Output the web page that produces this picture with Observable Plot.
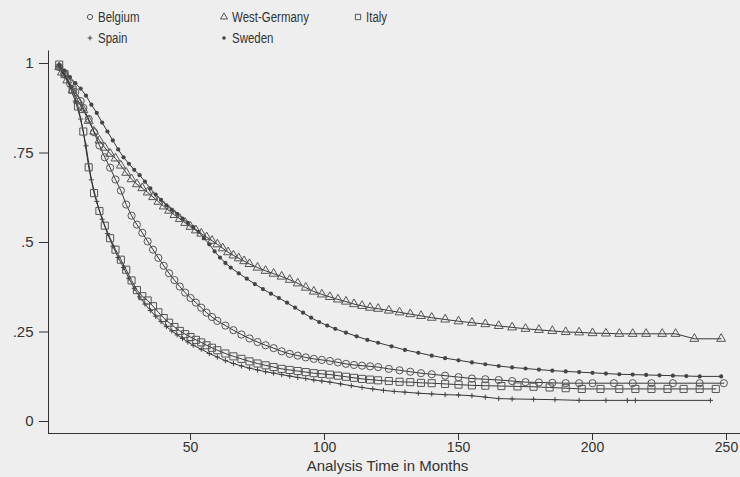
<!DOCTYPE html>
<html>
<head>
<meta charset="utf-8">
<script src="https://cdn.jsdelivr.net/npm/d3@7"></script>
<script src="https://cdn.jsdelivr.net/npm/@observablehq/plot@0.6"></script>
<style>
  html, body { margin: 0; padding: 0; background: #eeeeee; }
  #wrap { position: relative; width: 740px; height: 477px; background: #eeeeee; font-family: "Liberation Sans", Arial, sans-serif; color: #333; }
  #legend { position: absolute; left: 0; top: 0; width: 740px; height: 50px; }
  .item { position: absolute; display: flex; align-items: center; font-family: "Liberation Sans", Arial, sans-serif; font-size: 14px; color: #333; white-space: nowrap; }
  .item svg { margin-right: 3px; overflow: visible; }
  .item span { display: inline-block; transform: scaleX(0.82); transform-origin: left center; }
  #chart { position: absolute; left: 0; top: 50px; }
</style>
</head>
<body>
<div id="wrap">
  <div id="legend"></div>
  <div id="chart"></div>
</div>
<script>
// ---- Data (month, survival proportion) ----
const countries = ["Belgium", "West-Germany", "Italy", "Spain", "Sweden"];

const belgium = [[1,0.99],[3,0.97],[5,0.945],[7,0.92],[9,0.895],[10,0.876],[12,0.845],[14,0.808],[16,0.771],[18,0.738],[20,0.709],[22,0.676],[24,0.645],[26,0.606],[28,0.575],[30,0.55],[32,0.527],[34,0.503],[36,0.48],[38,0.457],[40,0.435],[42,0.414],[44,0.395],[46,0.377],[48,0.36],[50,0.345],[52,0.332],[54,0.318],[56,0.304],[58,0.292],[60,0.281],[63,0.268],[66,0.255],[69,0.243],[72,0.232],[75,0.222],[78,0.213],[81,0.205],[84,0.196],[87,0.189],[90,0.184],[93,0.179],[96,0.175],[99,0.172],[102,0.169],[105,0.165],[108,0.161],[111,0.158],[114,0.156],[117,0.154],[120,0.152],[124,0.147],[128,0.143],[132,0.139],[136,0.135],[140,0.132],[145,0.128],[150,0.124],[155,0.12],[160,0.118],[165,0.116],[170,0.113],[175,0.11],[180,0.109],[185,0.108],[190,0.107],[195,0.107],[200,0.107],[208,0.107],[215,0.107],[222,0.107],[230,0.107],[240,0.107],[249,0.107]];

const westGermany = [[1,0.99],[2,0.975],[4,0.953],[6,0.925],[8,0.897],[10,0.87],[12,0.84],[14,0.81],[16,0.785],[18,0.765],[20,0.748],[22,0.735],[24,0.715],[26,0.695],[28,0.677],[30,0.663],[32,0.652],[34,0.64],[36,0.627],[38,0.614],[40,0.601],[42,0.589],[44,0.577],[46,0.566],[48,0.555],[50,0.544],[52,0.534],[54,0.525],[56,0.515],[58,0.505],[60,0.495],[62,0.484],[64,0.473],[66,0.464],[68,0.456],[70,0.448],[72,0.44],[75,0.43],[78,0.421],[81,0.413],[84,0.405],[87,0.396],[90,0.386],[93,0.374],[96,0.363],[99,0.355],[102,0.348],[105,0.341],[108,0.335],[111,0.328],[114,0.323],[117,0.318],[120,0.315],[124,0.31],[128,0.305],[132,0.3],[136,0.295],[140,0.29],[145,0.285],[150,0.28],[155,0.276],[160,0.272],[165,0.267],[170,0.263],[175,0.259],[180,0.256],[185,0.253],[190,0.25],[195,0.249],[200,0.247],[205,0.246],[210,0.245],[215,0.245],[220,0.245],[226,0.245],[231,0.245],[238,0.231],[248,0.231]];

const italy = [[1,0.997],[3,0.97],[6,0.927],[8,0.88],[10,0.81],[12,0.71],[14,0.638],[16,0.588],[18,0.547],[20,0.512],[22,0.48],[24,0.452],[26,0.424],[28,0.394],[30,0.367],[32,0.35],[34,0.338],[36,0.322],[38,0.305],[40,0.289],[42,0.276],[44,0.264],[46,0.253],[48,0.244],[50,0.236],[52,0.228],[54,0.221],[56,0.213],[58,0.206],[60,0.199],[63,0.19],[66,0.182],[69,0.175],[72,0.168],[75,0.162],[78,0.157],[81,0.152],[84,0.147],[87,0.144],[90,0.141],[93,0.138],[96,0.135],[99,0.133],[102,0.131],[105,0.128],[108,0.125],[111,0.122],[114,0.119],[117,0.117],[120,0.115],[124,0.113],[128,0.111],[132,0.11],[136,0.108],[140,0.107],[145,0.105],[150,0.103],[155,0.101],[160,0.1],[166,0.099],[172,0.098],[178,0.097],[184,0.095],[190,0.093],[196,0.091],[203,0.091],[210,0.091],[216,0.091],[222,0.091],[228,0.091],[234,0.091],[240,0.091],[246,0.091]];

const spain = [[1,0.99],[3,0.965],[5,0.935],[7,0.895],[9,0.845],[11,0.77],[13,0.675],[15,0.615],[17,0.565],[19,0.525],[21,0.49],[23,0.458],[25,0.43],[27,0.4],[29,0.372],[31,0.348],[33,0.328],[35,0.31],[37,0.294],[39,0.279],[41,0.265],[43,0.253],[45,0.242],[47,0.232],[49,0.222],[51,0.213],[54,0.202],[57,0.19],[60,0.18],[63,0.17],[66,0.162],[69,0.155],[72,0.149],[75,0.144],[78,0.139],[81,0.135],[84,0.131],[87,0.127],[90,0.123],[93,0.12],[96,0.116],[99,0.113],[102,0.11],[106,0.105],[110,0.1],[114,0.095],[118,0.091],[122,0.087],[126,0.084],[130,0.082],[135,0.079],[140,0.077],[145,0.075],[150,0.074],[155,0.072],[160,0.068],[165,0.064],[170,0.063],[178,0.062],[186,0.061],[195,0.059],[205,0.059],[213,0.059],[216,0.059],[244,0.059]];

const sweden = [[1,0.995],[3,0.98],[5,0.962],[7,0.945],[9,0.93],[11,0.91],[13,0.885],[15,0.862],[17,0.835],[19,0.81],[21,0.785],[23,0.76],[25,0.738],[27,0.72],[29,0.703],[31,0.688],[33,0.67],[35,0.651],[37,0.634],[39,0.619],[41,0.604],[43,0.592],[45,0.58],[47,0.567],[49,0.555],[51,0.543],[53,0.53],[55,0.512],[57,0.495],[59,0.475],[61,0.458],[63,0.443],[65,0.43],[68,0.414],[71,0.399],[74,0.384],[77,0.37],[80,0.357],[83,0.345],[86,0.332],[89,0.318],[92,0.304],[95,0.29],[98,0.278],[101,0.268],[104,0.259],[108,0.248],[112,0.238],[116,0.228],[120,0.22],[125,0.21],[130,0.2],[135,0.192],[140,0.184],[145,0.177],[150,0.171],[155,0.165],[160,0.16],[165,0.155],[170,0.151],[175,0.148],[180,0.145],[185,0.142],[190,0.14],[195,0.138],[200,0.136],[205,0.134],[210,0.132],[215,0.131],[220,0.13],[225,0.129],[230,0.128],[235,0.127],[240,0.126],[248,0.126]];

const xTicks = [50, 100, 150, 200, 250];
const yTicks = [0, 0.25, 0.5, 0.75, 1];
const yTickLabels = ["0", ".25", ".5", ".75", "1"];
const xTitle = "Analysis Time in Months";

// ---- Styles ----
const seriesStyle = {
  "Belgium":      {data: belgium,     symbol: "circle",   r: 3.6, lr: 2.6, fill: "none",  stroke: "#555"},
  "West-Germany": {data: westGermany, symbol: "triangle", r: 3.3, lr: 2.6, fill: "none",  stroke: "#555"},
  "Italy":        {data: italy,       symbol: "square",   r: 4.0, lr: 3.0, fill: "none",  stroke: "#555"},
  "Spain":        {data: spain,       symbol: "plus",     r: 1.8, lr: 1.6, fill: "none",  stroke: "#444"},
  "Sweden":       {data: sweden,      symbol: "circle",   r: 2.1, lr: 1.8, fill: "#444",  stroke: "none"}
};

const toRows = (arr, name) => arr.map(([m, s]) => ({country: name, month: m, surv: s}));

const marks = [];
for (const c of countries) {
  const st = seriesStyle[c];
  marks.push(Plot.line(toRows(st.data, c), {x: "month", y: "surv", stroke: "#222", strokeWidth: 0.9}));
}
for (const c of countries) {
  const st = seriesStyle[c];
  marks.push(Plot.dot(toRows(st.data, c), {x: "month", y: "surv", symbol: () => st.symbol, r: st.r, fill: st.fill, stroke: st.stroke, strokeWidth: 1}));
}

const yLabelMap = new Map(yTicks.map((t, i) => [t, yTickLabels[i]]));
const yMin = -0.0335;

const chart = Plot.plot({
  width: 740,
  height: 427,
  marginLeft: 48,
  marginRight: 14,
  marginTop: 13,
  marginBottom: 44,
  style: {background: "transparent", color: "#333", fontFamily: "'Liberation Sans', Arial, sans-serif", fontSize: "15px", overflow: "visible"},
  x: {domain: [-3, 250]},
  y: {domain: [yMin, 1]},
  symbol: {type: "identity"},
  marks: [
    Plot.ruleX([-3], {y1: yMin, y2: 1.035, stroke: "#333", strokeWidth: 1}),
    Plot.ruleY([yMin], {x1: -3, x2: 255.3, stroke: "#333", strokeWidth: 1}),
    Plot.axisY({ticks: yTicks, tickFormat: d => yLabelMap.get(d), tickSize: 9, tickPadding: 6, fontSize: 15, label: null, strokeOpacity: 1}),
    Plot.axisX({ticks: xTicks, tickFormat: d => String(d), tickSize: 7, tickPadding: 2, fontSize: 14, label: null, strokeOpacity: 1}),
    Plot.text([xTitle], {frameAnchor: "bottom", dy: 37, fontSize: 15, fill: "#333"}),
    ...marks
  ]
});
document.getElementById("chart").appendChild(chart);

// ---- Legend (HTML, above the SVG) ----
const legendPos = {
  "Belgium": [90, 17], "West-Germany": [224, 17], "Italy": [358, 17],
  "Spain": [90, 38], "Sweden": [224, 38]
};
const legend = document.getElementById("legend");
for (const c of countries) {
  const st = seriesStyle[c];
  const [cx, cy] = legendPos[c];
  const item = document.createElement("div");
  item.className = "item";
  item.style.left = (cx - 5) + "px";
  item.style.top = (cy - 9) + "px";
  item.style.height = "18px";
  const sym = d3.symbol().type({
    circle: d3.symbolCircle, triangle: d3.symbolTriangle, square: d3.symbolSquare, plus: d3.symbolPlus
  }[st.symbol]).size(Math.PI * st.lr * st.lr)();
  const svgNS = "http://www.w3.org/2000/svg";
  const svg = document.createElementNS(svgNS, "svg");
  svg.setAttribute("width", 10); svg.setAttribute("height", 18);
  const p = document.createElementNS(svgNS, "path");
  p.setAttribute("d", sym);
  p.setAttribute("transform", "translate(5,9)");
  p.setAttribute("fill", st.fill);
  p.setAttribute("stroke", st.stroke);
  p.setAttribute("stroke-width", 1);
  svg.appendChild(p);
  item.appendChild(svg);
  const t = document.createElement("span");
  t.textContent = c;
  item.appendChild(t);
  legend.appendChild(item);
}
</script>
</body>
</html>
